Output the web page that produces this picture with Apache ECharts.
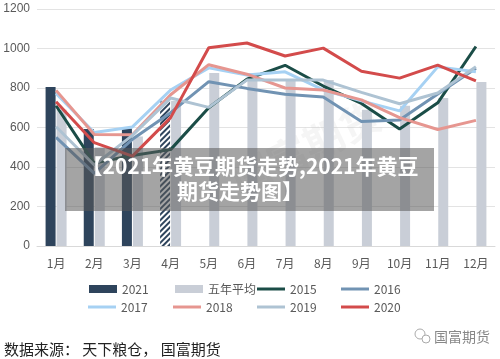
<!DOCTYPE html>
<html><head><meta charset="utf-8">
<script src="https://cdn.jsdelivr.net/npm/echarts@6/dist/echarts.min.js"></script>
<style>html,body{margin:0;padding:0;background:#fff}#c{width:500px;height:359px}</style>
</head><body><div id="c"></div>
<script>
var months = ['1月','2月','3月','4月','5月','6月','7月','8月','9月','10月','11月','12月'];
var yTicks = [0, 200, 400, 600, 800, 1000, 1200];
var v2021 = [805, 592, 595, 735];
var vAvg  = [690, 500, 555, 735, 876, 876, 840, 840, 690, 710, 750, 830];
var v2015 = [710, 420, 458, 488, 700, 845, 915, 810, 722, 592, 725, 1010];
var v2016 = [550, 368, 540, 675, 832, 798, 768, 755, 630, 638, 770, 900];
var v2017 = [772, 575, 603, 790, 902, 866, 882, 790, 735, 684, 907, 882];
var v2018 = [788, 565, 563, 766, 918, 870, 800, 790, 740, 650, 590, 636];
var v2019 = [604, 410, 560, 749, 702, 840, 840, 840, 778, 720, 775, 908];
var v2020 = [730, 523, 455, 650, 1004, 1028, 962, 1002, 885, 850, 916, 836];
var hatchedIndex = 3;

var C = {c2021:'#2e445c', avg:'#c9ced7', y2015:'#1b4d47', y2016:'#7193b3', y2017:'#a6d1f3', y2018:'#e69690', y2019:'#aec3d3', y2020:'#d34b4b'};

var d2021 = v2021.map(function(v, i){
  if (i === hatchedIndex) return {value: v, itemStyle: {color: '#ffffff', decal: {symbol:'rect', symbolSize:1, dashArrayX:[1,0], dashArrayY:[2,2], rotation: -Math.PI/4, color: C.c2021}}};
  return v;
});

function lineS(name, data, color){
  return {name:name, type:'line', data:data, symbol:'none', lineStyle:{width:3, color:color}, itemStyle:{color:color}, z:3};
}
function leg(name, left, top, h){
  return {data:[name], left:left, top:top, itemWidth:28, itemHeight:h, itemGap:0, icon:'rect', textStyle:{color:'#595959', fontSize:12, fontFamily:'Noto Sans CJK SC, sans-serif'}, selectedMode:false, padding:0};
}
var chart = echarts.init(document.getElementById('c'), null, {renderer:'canvas'});
chart.setOption({
  animation:false,
  grid:{left:37, right:5, top:9, bottom:113},
  xAxis:{type:'category', data:months, axisLine:{lineStyle:{color:'#d9d9d9', width:1}}, axisTick:{show:false},
    axisLabel:{color:'#595959', fontSize:12, margin:11, fontFamily:'Noto Sans CJK SC, sans-serif'}},
  yAxis:{type:'value', min:yTicks[0], max:yTicks[yTicks.length-1], interval:200,
    axisLine:{show:false}, axisTick:{show:false},
    splitLine:{lineStyle:{color:'#e3e3e3', width:1}},
    axisLabel:{color:'#595959', fontSize:12, margin:7, formatter:function(v){return String(v);}}},
  legend:[
    leg('2021', 89, 283, 8), leg('五年平均', 175, 283, 8), leg('2015', 257, 283, 3), leg('2016', 341, 283, 3),
    leg('2017', 88, 301, 3), leg('2018', 173, 301, 3), leg('2019', 257, 301, 3), leg('2020', 341, 301, 3)
  ],
  series:[
    {name:'2021', type:'bar', data:d2021, barWidth:10, barGap:'10%', itemStyle:{color:C.c2021}, z:2},
    {name:'五年平均', type:'bar', data:vAvg, barWidth:10, barGap:'10%', itemStyle:{color:C.avg}, z:2},
    lineS('2015', v2015, C.y2015),
    lineS('2016', v2016, C.y2016),
    lineS('2017', v2017, C.y2017),
    lineS('2018', v2018, C.y2018),
    lineS('2019', v2019, C.y2019),
    lineS('2020', v2020, C.y2020)
  ],
  graphic:[
    {type:'text', left:225, top:95, rotation:0.45, z:1, style:{text:'国富期货', fill:'rgba(190,190,190,0.16)', font:'bold 40px "Noto Sans CJK SC"'}},
    {type:'rect', shape:{x:65, y:148, width:369, height:63}, style:{fill:'rgba(90,90,90,0.55)'}, z:10},
    {type:'text', x:250, y:166, z:11, style:{text:'【2021年黄豆期货走势,2021年黄豆', fill:'#fff', font:'bold 21px "Noto Sans CJK SC"', textAlign:'center', textVerticalAlign:'middle'}},
    {type:'text', x:240, y:191, z:11, style:{text:'期货走势图】', fill:'#fff', font:'bold 21px "Noto Sans CJK SC"', textAlign:'center', textVerticalAlign:'middle'}},
    {type:'text', x:4, y:349, z:11, style:{text:'数据来源： 天下粮仓， 国富期货', fill:'#222', font:'15px "Noto Sans CJK SC"', textVerticalAlign:'middle'}},
    {type:'circle', shape:{cx:420, cy:334, r:5}, style:{fill:'none', stroke:'#aaa', lineWidth:1}, z:11},
    {type:'circle', shape:{cx:426, cy:339, r:4}, style:{fill:'#fff', stroke:'#aaa', lineWidth:1}, z:12},
    {type:'text', x:434, y:337, z:11, style:{text:'国富期货', fill:'#888', font:'14px "Noto Sans CJK SC"', textVerticalAlign:'middle'}}
  ]
});
</script></body></html>
